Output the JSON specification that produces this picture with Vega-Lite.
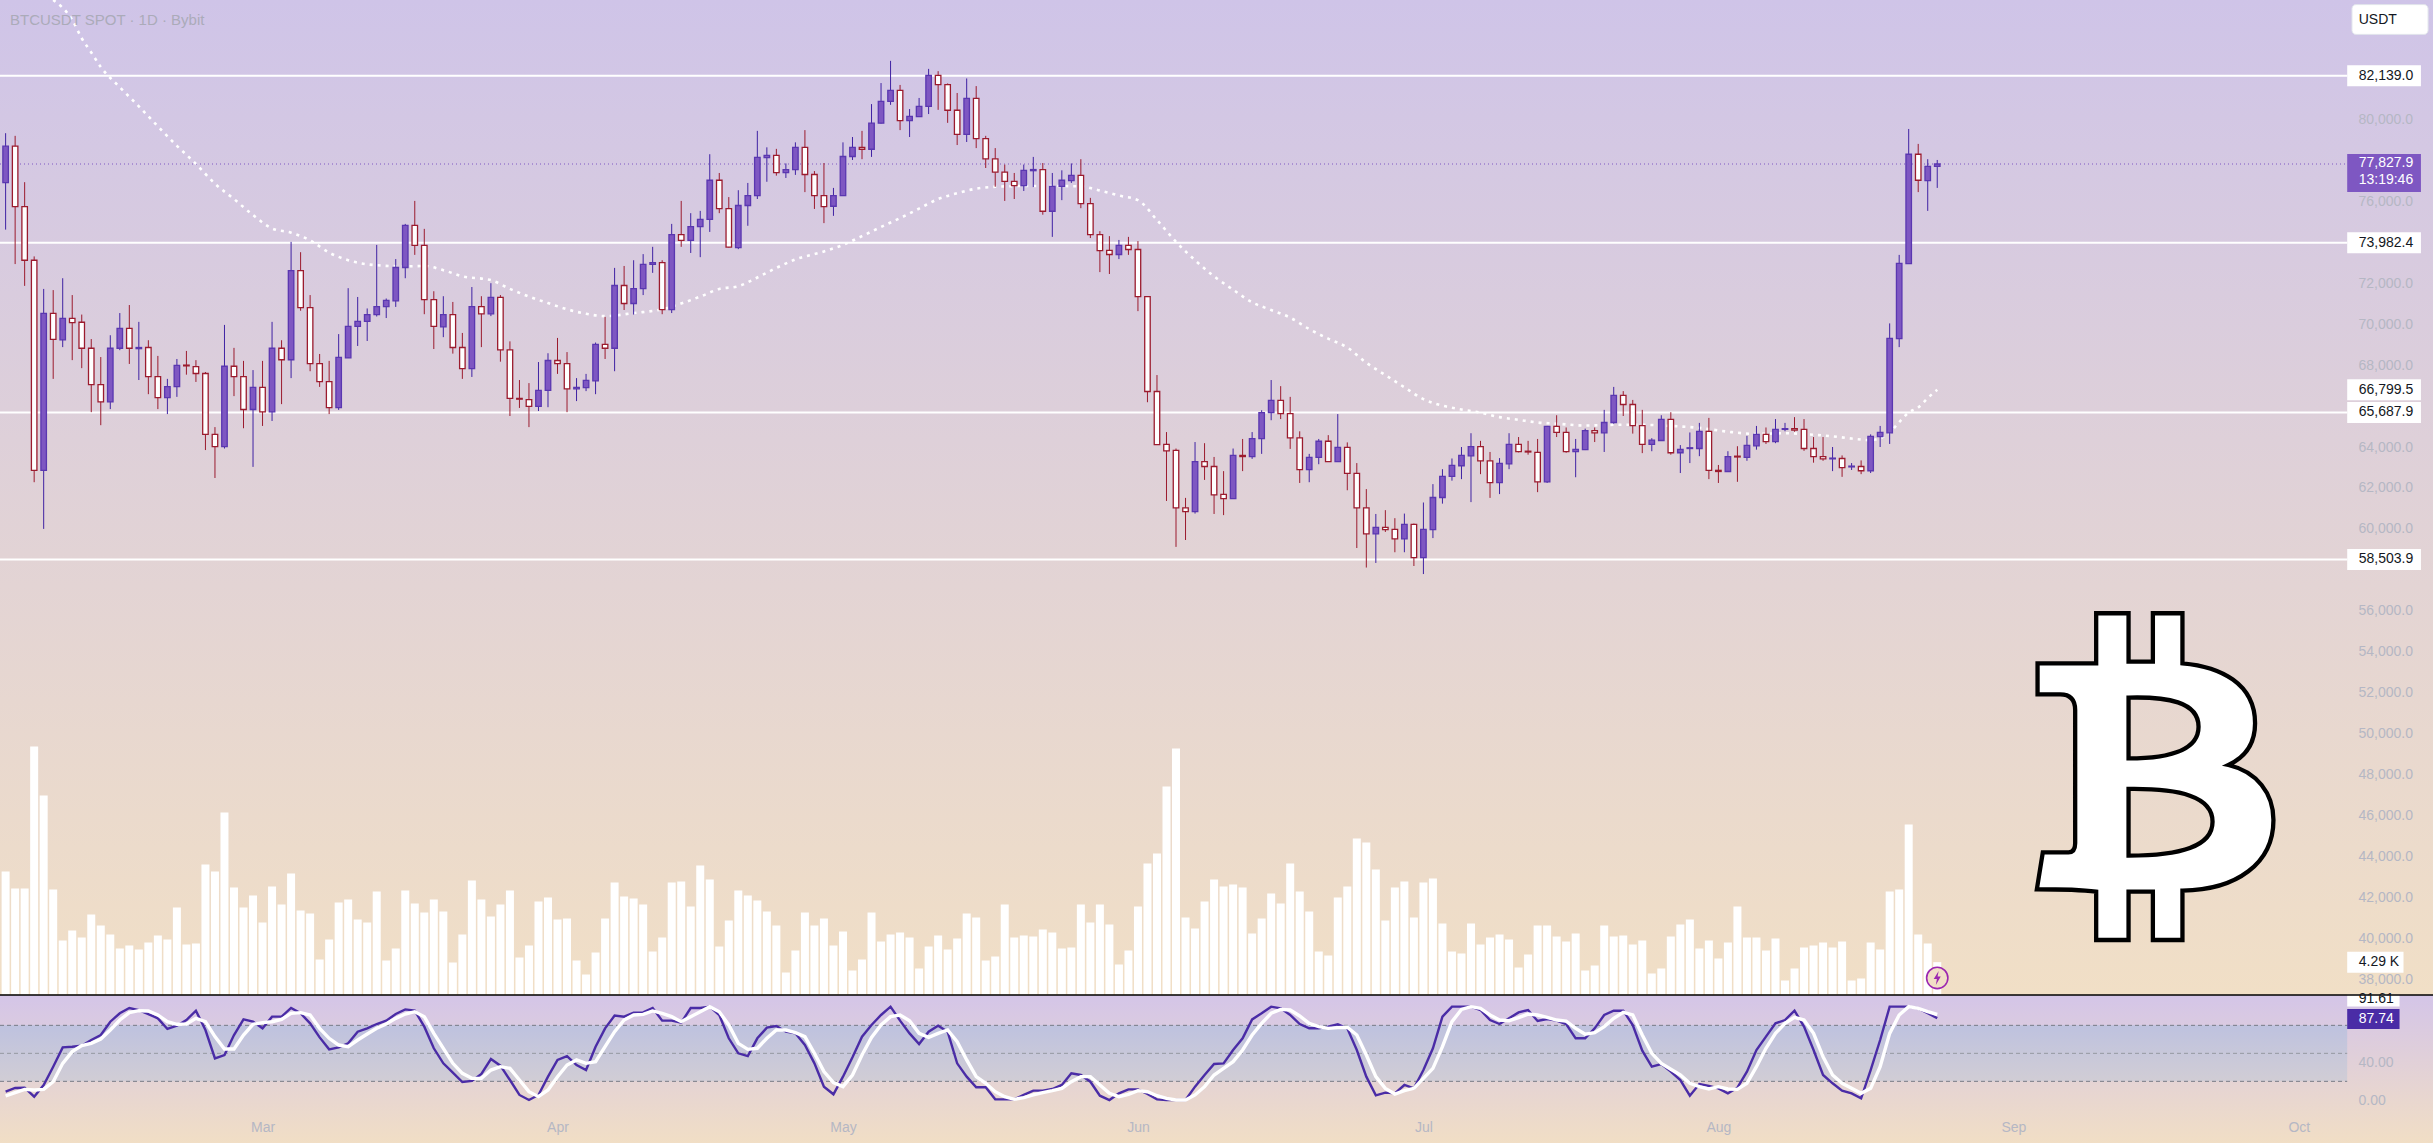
{"$schema":"https://vega.github.io/schema/vega-lite/v6.json","width":2433,"height":1143,"padding":0,"autosize":{"type":"none"},"background":"#F1DFC6","config":{"view":{"stroke":null},"text":{"font":"Liberation Sans"},"axis":{"labelFont":"Liberation Sans"}},
"datasets":{"candles":[
{"t":"2025-02-02","o":76922,"h":79334,"l":74622,"c":78699,"v":16310,"k":8.9,"s":4.3},
{"t":"2025-02-03","o":78699,"h":79204,"l":72939,"c":75744,"v":14056,"k":12.9,"s":7.9},
{"t":"2025-02-04","o":75744,"h":76941,"l":71873,"c":73126,"v":14056,"k":13.2,"s":11.4},
{"t":"2025-02-05","o":73126,"h":73313,"l":62280,"c":62860,"v":32885,"k":3.6,"s":10.7},
{"t":"2025-02-06","o":62860,"h":71724,"l":59999,"c":70527,"v":26387,"k":16.1,"s":11.4},
{"t":"2025-02-07","o":70527,"h":71667,"l":67329,"c":69255,"v":13923,"k":35.7,"s":19.6},
{"t":"2025-02-08","o":69236,"h":72247,"l":68881,"c":70284,"v":7160,"k":56.4,"s":39.3},
{"t":"2025-02-09","o":70284,"h":71424,"l":68245,"c":70078,"v":8486,"k":57.1,"s":51.8},
{"t":"2025-02-10","o":70097,"h":70471,"l":67853,"c":68825,"v":7558,"k":58.2,"s":58.2},
{"t":"2025-02-11","o":68825,"h":69274,"l":65702,"c":67049,"v":10608,"k":64.3,"s":60.7},
{"t":"2025-02-12","o":67049,"h":68395,"l":65066,"c":66207,"v":9149,"k":69.6,"s":65.4},
{"t":"2025-02-13","o":66207,"h":69461,"l":65852,"c":68825,"v":7956,"k":83.9,"s":75},
{"t":"2025-02-14","o":68825,"h":70545,"l":68732,"c":69797,"v":6100,"k":92.9,"s":85.7},
{"t":"2025-02-15","o":69797,"h":70938,"l":68058,"c":68825,"v":6497,"k":98.6,"s":93.6},
{"t":"2025-02-16","o":68806,"h":70115,"l":67273,"c":68862,"v":5967,"k":96.4,"s":95.7},
{"t":"2025-02-17","o":68862,"h":69218,"l":66581,"c":67441,"v":6895,"k":92.1,"s":95.4},
{"t":"2025-02-18","o":67441,"h":68451,"l":65852,"c":66413,"v":7823,"k":87.5,"s":91.1},
{"t":"2025-02-19","o":66413,"h":67329,"l":65609,"c":66955,"v":7293,"k":76.1,"s":83.9},
{"t":"2025-02-20","o":66955,"h":68301,"l":66450,"c":67984,"v":11536,"k":79.6,"s":81.1},
{"t":"2025-02-21","o":68002,"h":68694,"l":67535,"c":67965,"v":6630,"k":85.7,"s":81.4},
{"t":"2025-02-22","o":67927,"h":68245,"l":67179,"c":67591,"v":6763,"k":95.7,"s":87.5},
{"t":"2025-02-23","o":67591,"h":67666,"l":63851,"c":64617,"v":17238,"k":75,"s":83.9},
{"t":"2025-02-24","o":64617,"h":64973,"l":62486,"c":64019,"v":16310,"k":44.6,"s":67.9},
{"t":"2025-02-25","o":64019,"h":69966,"l":63926,"c":67946,"v":24133,"k":48.2,"s":54.6},
{"t":"2025-02-26","o":67946,"h":68844,"l":66487,"c":67441,"v":14188,"k":69.6,"s":54.6},
{"t":"2025-02-27","o":67441,"h":68208,"l":64917,"c":65833,"v":11536,"k":86.4,"s":69.6},
{"t":"2025-02-28","o":65833,"h":67759,"l":63028,"c":66918,"v":13127,"k":83.9,"s":81.1},
{"t":"2025-03-01","o":66918,"h":68208,"l":65029,"c":65721,"v":9547,"k":76.8,"s":82.9},
{"t":"2025-03-02","o":65721,"h":70115,"l":65272,"c":68825,"v":14321,"k":89.3,"s":83.9},
{"t":"2025-03-03","o":68825,"h":69218,"l":66095,"c":68264,"v":11934,"k":89.3,"s":86.4},
{"t":"2025-03-04","o":68264,"h":74024,"l":67366,"c":72621,"v":16045,"k":98.6,"s":92.9},
{"t":"2025-03-05","o":72621,"h":73519,"l":70658,"c":70807,"v":11138,"k":92.9,"s":93.6},
{"t":"2025-03-06","o":70807,"h":71424,"l":67703,"c":68077,"v":10741,"k":82.1,"s":91.1},
{"t":"2025-03-07","o":68077,"h":68545,"l":66936,"c":67198,"v":4641,"k":67.1,"s":76.8},
{"t":"2025-03-08","o":67198,"h":68208,"l":65609,"c":65927,"v":7293,"k":54.3,"s":66.1},
{"t":"2025-03-09","o":65927,"h":69517,"l":65815,"c":68376,"v":12199,"k":56.4,"s":58.9},
{"t":"2025-03-10","o":68357,"h":71761,"l":68357,"c":69891,"v":12597,"k":60.7,"s":57.1},
{"t":"2025-03-11","o":69891,"h":71331,"l":68937,"c":70134,"v":9945,"k":73.2,"s":64.3},
{"t":"2025-03-12","o":70134,"h":70770,"l":69180,"c":70471,"v":9547,"k":76.8,"s":70.7},
{"t":"2025-03-13","o":70471,"h":73874,"l":70377,"c":70863,"v":13658,"k":81.4,"s":76.8},
{"t":"2025-03-14","o":70863,"h":71256,"l":70302,"c":71162,"v":4508,"k":85,"s":81.4},
{"t":"2025-03-15","o":71144,"h":73182,"l":70845,"c":72771,"v":6100,"k":92.1,"s":87.5},
{"t":"2025-03-16","o":72771,"h":74902,"l":72247,"c":74828,"v":13790,"k":97.1,"s":92.1},
{"t":"2025-03-17","o":74828,"h":76025,"l":73388,"c":73855,"v":12067,"k":95.7,"s":94.6},
{"t":"2025-03-18","o":73855,"h":74659,"l":70489,"c":71200,"v":10873,"k":78.6,"s":89.3},
{"t":"2025-03-19","o":71200,"h":71611,"l":68788,"c":69891,"v":12597,"k":55.4,"s":71.4},
{"t":"2025-03-20","o":69872,"h":71368,"l":69367,"c":70471,"v":11006,"k":39.3,"s":55.4},
{"t":"2025-03-21","o":70471,"h":71088,"l":68563,"c":68862,"v":4243,"k":29.3,"s":39.3},
{"t":"2025-03-22","o":68862,"h":69573,"l":67329,"c":67834,"v":7956,"k":19.3,"s":28.6},
{"t":"2025-03-23","o":67834,"h":71817,"l":67423,"c":70863,"v":15116,"k":20.4,"s":23.2},
{"t":"2025-03-24","o":70863,"h":71368,"l":68881,"c":70508,"v":12597,"k":27.9,"s":23.2},
{"t":"2025-03-25","o":70508,"h":72004,"l":70396,"c":71312,"v":10343,"k":43.9,"s":32.1},
{"t":"2025-03-26","o":71312,"h":71424,"l":68170,"c":68750,"v":11934,"k":36.8,"s":35.7},
{"t":"2025-03-27","o":68750,"h":69162,"l":65515,"c":66375,"v":13790,"k":21.4,"s":33.9},
{"t":"2025-03-28","o":66375,"h":67273,"l":65908,"c":66338,"v":4906,"k":5.4,"s":21.4},
{"t":"2025-03-29","o":66319,"h":67123,"l":64973,"c":65983,"v":6497,"k":0,"s":8.9},
{"t":"2025-03-30","o":65983,"h":68152,"l":65758,"c":66768,"v":12332,"k":5.4,"s":3.6},
{"t":"2025-03-31","o":66768,"h":68582,"l":65945,"c":68227,"v":12862,"k":25,"s":10.7},
{"t":"2025-04-01","o":68227,"h":69330,"l":67572,"c":68077,"v":9945,"k":42.9,"s":25},
{"t":"2025-04-02","o":68077,"h":68638,"l":65702,"c":66843,"v":10078,"k":47.1,"s":37.5},
{"t":"2025-04-03","o":66843,"h":67366,"l":66244,"c":66918,"v":4508,"k":37.5,"s":42.9},
{"t":"2025-04-04","o":66899,"h":67572,"l":66731,"c":67254,"v":2652,"k":32.1,"s":39.3},
{"t":"2025-04-05","o":67236,"h":69105,"l":66581,"c":69012,"v":5569,"k":57.1,"s":41.1},
{"t":"2025-04-06","o":69012,"h":70358,"l":68301,"c":68825,"v":10078,"k":76.8,"s":57.1},
{"t":"2025-04-07","o":68825,"h":72752,"l":67703,"c":71892,"v":14851,"k":90.4,"s":73.2},
{"t":"2025-04-08","o":71892,"h":72846,"l":70695,"c":71013,"v":12995,"k":89.3,"s":85.7},
{"t":"2025-04-09","o":71013,"h":73126,"l":70471,"c":71742,"v":12730,"k":93.6,"s":91.1},
{"t":"2025-04-10","o":71742,"h":73425,"l":71424,"c":72920,"v":11934,"k":93.9,"s":91.8},
{"t":"2025-04-11","o":72920,"h":73781,"l":72509,"c":73014,"v":5702,"k":98.6,"s":95.4},
{"t":"2025-04-12","o":73014,"h":73126,"l":70489,"c":70714,"v":7558,"k":85,"s":92.9},
{"t":"2025-04-13","o":70714,"h":74902,"l":70545,"c":74379,"v":14851,"k":85,"s":89.3},
{"t":"2025-04-14","o":74379,"h":76025,"l":73781,"c":74098,"v":14984,"k":82.9,"s":83.9},
{"t":"2025-04-15","o":74098,"h":75426,"l":73481,"c":74772,"v":11669,"k":98.6,"s":89.3},
{"t":"2025-04-16","o":74772,"h":75538,"l":73276,"c":75127,"v":17105,"k":98.6,"s":94.6},
{"t":"2025-04-17","o":75127,"h":78306,"l":74510,"c":77034,"v":15249,"k":100,"s":100},
{"t":"2025-04-18","o":77034,"h":77390,"l":75426,"c":75651,"v":6365,"k":91.1,"s":94.6},
{"t":"2025-04-19","o":75651,"h":76212,"l":73743,"c":73762,"v":9812,"k":66.1,"s":80.4},
{"t":"2025-04-20","o":73743,"h":76548,"l":73668,"c":75800,"v":13790,"k":50,"s":60.7},
{"t":"2025-04-21","o":75800,"h":76903,"l":74809,"c":76286,"v":13127,"k":47.1,"s":54.3},
{"t":"2025-04-22","o":76286,"h":79447,"l":76118,"c":78156,"v":12464,"k":66.1,"s":55.4},
{"t":"2025-04-23","o":78138,"h":78643,"l":76960,"c":78250,"v":11006,"k":77.5,"s":66.1},
{"t":"2025-04-24","o":78250,"h":78568,"l":77259,"c":77408,"v":9149,"k":79.3,"s":75},
{"t":"2025-04-25","o":77408,"h":77857,"l":77146,"c":77558,"v":2917,"k":73.2,"s":75},
{"t":"2025-04-26","o":77558,"h":78886,"l":77296,"c":78643,"v":5834,"k":71.4,"s":72.1},
{"t":"2025-04-27","o":78643,"h":79484,"l":76455,"c":77315,"v":10873,"k":58.9,"s":67.9},
{"t":"2025-04-28","o":77315,"h":77483,"l":75632,"c":76286,"v":9149,"k":39.3,"s":50},
{"t":"2025-04-29","o":76286,"h":77876,"l":74940,"c":75744,"v":10078,"k":14.3,"s":30.4},
{"t":"2025-04-30","o":75763,"h":76660,"l":75295,"c":76286,"v":6497,"k":6.1,"s":18.6},
{"t":"2025-05-01","o":76286,"h":78886,"l":76286,"c":78194,"v":8354,"k":25,"s":14.3},
{"t":"2025-05-02","o":78194,"h":79147,"l":78025,"c":78643,"v":3182,"k":45.7,"s":26.8},
{"t":"2025-05-03","o":78643,"h":79447,"l":78063,"c":78549,"v":4641,"k":67.9,"s":48.2},
{"t":"2025-05-04","o":78549,"h":80756,"l":78175,"c":79821,"v":10873,"k":80.4,"s":67.1},
{"t":"2025-05-05","o":79821,"h":81784,"l":79802,"c":80887,"v":7028,"k":91.1,"s":80.4},
{"t":"2025-05-06","o":80887,"h":82869,"l":80718,"c":81429,"v":7956,"k":100,"s":89.3},
{"t":"2025-05-07","o":81429,"h":81691,"l":79484,"c":79952,"v":8221,"k":85,"s":91.1},
{"t":"2025-05-08","o":79952,"h":80513,"l":79147,"c":80157,"v":7558,"k":71.4,"s":85},
{"t":"2025-05-09","o":80139,"h":81055,"l":80139,"c":80643,"v":3448,"k":60,"s":71.4},
{"t":"2025-05-10","o":80643,"h":82476,"l":80269,"c":82158,"v":6365,"k":73.2,"s":67.1},
{"t":"2025-05-11","o":82158,"h":82364,"l":80475,"c":81709,"v":7823,"k":79.6,"s":71.4},
{"t":"2025-05-12","o":81709,"h":81765,"l":79839,"c":80456,"v":5967,"k":73.2,"s":75},
{"t":"2025-05-13","o":80456,"h":81298,"l":78755,"c":79278,"v":7426,"k":39.3,"s":62.5},
{"t":"2025-05-14","o":79278,"h":82008,"l":78904,"c":81036,"v":10741,"k":25,"s":42.9},
{"t":"2025-05-15","o":81036,"h":81635,"l":78605,"c":79073,"v":10210,"k":13.6,"s":25},
{"t":"2025-05-16","o":79073,"h":79204,"l":77633,"c":78082,"v":4508,"k":13.6,"s":17.9},
{"t":"2025-05-17","o":78082,"h":78605,"l":76716,"c":77427,"v":5039,"k":0.7,"s":8.9},
{"t":"2025-05-18","o":77427,"h":77801,"l":76025,"c":76978,"v":11934,"k":0.7,"s":3.6},
{"t":"2025-05-19","o":76978,"h":77390,"l":76118,"c":76773,"v":7558,"k":0.7,"s":0.7},
{"t":"2025-05-20","o":76773,"h":77801,"l":76511,"c":77520,"v":7823,"k":5.4,"s":2.5},
{"t":"2025-05-21","o":77502,"h":78175,"l":76698,"c":77558,"v":7691,"k":10,"s":5.4},
{"t":"2025-05-22","o":77558,"h":77876,"l":75351,"c":75520,"v":8619,"k":10,"s":7.9},
{"t":"2025-05-23","o":75520,"h":77390,"l":74267,"c":76735,"v":8221,"k":11.8,"s":10},
{"t":"2025-05-24","o":76735,"h":77520,"l":76062,"c":77034,"v":6100,"k":16.1,"s":12.5},
{"t":"2025-05-25","o":77016,"h":77857,"l":76903,"c":77277,"v":6232,"k":28.6,"s":19.6},
{"t":"2025-05-26","o":77277,"h":78063,"l":75669,"c":75894,"v":11934,"k":26.8,"s":25},
{"t":"2025-05-27","o":75894,"h":76174,"l":74211,"c":74379,"v":9547,"k":19.6,"s":25},
{"t":"2025-05-28","o":74379,"h":74547,"l":72546,"c":73594,"v":11934,"k":4.6,"s":16.1},
{"t":"2025-05-29","o":73612,"h":74304,"l":72453,"c":73406,"v":9282,"k":0,"s":7.1},
{"t":"2025-05-30","o":73406,"h":74117,"l":73182,"c":73855,"v":3978,"k":7.1,"s":3.6},
{"t":"2025-05-31","o":73855,"h":74267,"l":73388,"c":73650,"v":5834,"k":11.4,"s":6.1},
{"t":"2025-06-01","o":73650,"h":74061,"l":70639,"c":71350,"v":11669,"k":11.4,"s":10},
{"t":"2025-06-02","o":71350,"h":71350,"l":66188,"c":66712,"v":17371,"k":6.4,"s":8.9},
{"t":"2025-06-03","o":66712,"h":67516,"l":64113,"c":64113,"v":18697,"k":0.7,"s":4.6},
{"t":"2025-06-04","o":64131,"h":64730,"l":61364,"c":63813,"v":27581,"k":0,"s":1.8},
{"t":"2025-06-05","o":63832,"h":63926,"l":59120,"c":61027,"v":32620,"k":0,"s":0},
{"t":"2025-06-06","o":61027,"h":61513,"l":59456,"c":60840,"v":10210,"k":0,"s":0},
{"t":"2025-06-07","o":60840,"h":64243,"l":60747,"c":63290,"v":8752,"k":14.3,"s":5.4},
{"t":"2025-06-08","o":63290,"h":64187,"l":62392,"c":63047,"v":12332,"k":26.8,"s":14.3},
{"t":"2025-06-09","o":63047,"h":63514,"l":60728,"c":61663,"v":15249,"k":38.6,"s":26.8},
{"t":"2025-06-10","o":61682,"h":62822,"l":60672,"c":61476,"v":14321,"k":39.3,"s":33.9},
{"t":"2025-06-11","o":61476,"h":63926,"l":61476,"c":63589,"v":14586,"k":53.6,"s":41.1},
{"t":"2025-06-12","o":63589,"h":64393,"l":62822,"c":63533,"v":14188,"k":66.1,"s":53.6},
{"t":"2025-06-13","o":63533,"h":64730,"l":63421,"c":64412,"v":8089,"k":86.4,"s":69.6},
{"t":"2025-06-14","o":64412,"h":65796,"l":63664,"c":65683,"v":10078,"k":92.9,"s":82.1},
{"t":"2025-06-15","o":65683,"h":67273,"l":65309,"c":66282,"v":13393,"k":100,"s":92.9},
{"t":"2025-06-16","o":66282,"h":66974,"l":65365,"c":65627,"v":12067,"k":98.2,"s":97.1},
{"t":"2025-06-17","o":65627,"h":66450,"l":63907,"c":64449,"v":17371,"k":91.1,"s":96.4},
{"t":"2025-06-18","o":64449,"h":64767,"l":62243,"c":62897,"v":13658,"k":81.4,"s":90},
{"t":"2025-06-19","o":62897,"h":63664,"l":62280,"c":63496,"v":11006,"k":76.8,"s":82.1},
{"t":"2025-06-20","o":63496,"h":64393,"l":63159,"c":64281,"v":5702,"k":76.8,"s":78.6},
{"t":"2025-06-21","o":64281,"h":64580,"l":63290,"c":63290,"v":5171,"k":78.6,"s":76.8},
{"t":"2025-06-22","o":63290,"h":65609,"l":63290,"c":63981,"v":12862,"k":81.1,"s":77.5},
{"t":"2025-06-23","o":63981,"h":64225,"l":61887,"c":62710,"v":14321,"k":76.8,"s":77.9},
{"t":"2025-06-24","o":62710,"h":63215,"l":59064,"c":61027,"v":20686,"k":53.6,"s":69.6},
{"t":"2025-06-25","o":61027,"h":61943,"l":58110,"c":59755,"v":20155,"k":25,"s":48.2},
{"t":"2025-06-26","o":59755,"h":60728,"l":58335,"c":60073,"v":16575,"k":5,"s":25},
{"t":"2025-06-27","o":60073,"h":60915,"l":59849,"c":59961,"v":9812,"k":7.9,"s":12.5},
{"t":"2025-06-28","o":59980,"h":60522,"l":58858,"c":59512,"v":14188,"k":7.1,"s":6.4},
{"t":"2025-06-29","o":59512,"h":60747,"l":58858,"c":60223,"v":14984,"k":16.1,"s":10},
{"t":"2025-06-30","o":60223,"h":60260,"l":58185,"c":58596,"v":10210,"k":12.5,"s":12.5},
{"t":"2025-07-01","o":58596,"h":61289,"l":57792,"c":59980,"v":14851,"k":32.1,"s":23.2},
{"t":"2025-07-02","o":59961,"h":62187,"l":59550,"c":61532,"v":15382,"k":55.4,"s":33.9},
{"t":"2025-07-03","o":61532,"h":62916,"l":61233,"c":62561,"v":9415,"k":89.3,"s":57.1},
{"t":"2025-07-04","o":62561,"h":63440,"l":62355,"c":63103,"v":5702,"k":100,"s":83.9},
{"t":"2025-07-05","o":63084,"h":64000,"l":62430,"c":63589,"v":5437,"k":100,"s":97.1},
{"t":"2025-07-06","o":63570,"h":64674,"l":61308,"c":64019,"v":9415,"k":100,"s":100},
{"t":"2025-07-07","o":64019,"h":64300,"l":62673,"c":63327,"v":6630,"k":96.4,"s":98.2},
{"t":"2025-07-08","o":63327,"h":63757,"l":61513,"c":62261,"v":7558,"k":85.7,"s":91.1},
{"t":"2025-07-09","o":62261,"h":63458,"l":61700,"c":63196,"v":7956,"k":81.4,"s":85.7},
{"t":"2025-07-10","o":63178,"h":64674,"l":62916,"c":64131,"v":7293,"k":87.5,"s":85},
{"t":"2025-07-11","o":64131,"h":64487,"l":63739,"c":63776,"v":3580,"k":93.9,"s":88.2},
{"t":"2025-07-12","o":63795,"h":64300,"l":63626,"c":63757,"v":5304,"k":96.4,"s":92.1},
{"t":"2025-07-13","o":63739,"h":64393,"l":61794,"c":62298,"v":9149,"k":84.6,"s":91.1},
{"t":"2025-07-14","o":62298,"h":65029,"l":62243,"c":65010,"v":9149,"k":86.8,"s":88.6},
{"t":"2025-07-15","o":65010,"h":65552,"l":64487,"c":64711,"v":7691,"k":85,"s":85.7},
{"t":"2025-07-16","o":64711,"h":64954,"l":63720,"c":63776,"v":7028,"k":81.4,"s":84.6},
{"t":"2025-07-17","o":63776,"h":64393,"l":62523,"c":63888,"v":8089,"k":66.1,"s":76.8},
{"t":"2025-07-18","o":63870,"h":64898,"l":63851,"c":64805,"v":3182,"k":66.1,"s":70.4},
{"t":"2025-07-19","o":64805,"h":64954,"l":64243,"c":64693,"v":3845,"k":76.8,"s":72.1},
{"t":"2025-07-20","o":64693,"h":65815,"l":63757,"c":65197,"v":9149,"k":91.1,"s":78.6},
{"t":"2025-07-21","o":65197,"h":66936,"l":65140,"c":66525,"v":7691,"k":95.7,"s":87.5},
{"t":"2025-07-22","o":66525,"h":66731,"l":65515,"c":66076,"v":7823,"k":95.7,"s":93.9},
{"t":"2025-07-23","o":66076,"h":66300,"l":64655,"c":65048,"v":6630,"k":80.4,"s":91.1},
{"t":"2025-07-24","o":65048,"h":65815,"l":63701,"c":64131,"v":7160,"k":52.9,"s":69.6},
{"t":"2025-07-25","o":64131,"h":64431,"l":63795,"c":64337,"v":2785,"k":35.7,"s":50},
{"t":"2025-07-26","o":64318,"h":65552,"l":64318,"c":65347,"v":3448,"k":38.6,"s":39.3},
{"t":"2025-07-27","o":65347,"h":65702,"l":63626,"c":63720,"v":7691,"k":30.4,"s":32.9},
{"t":"2025-07-28","o":63720,"h":64094,"l":62729,"c":63888,"v":9282,"k":21.4,"s":26.8},
{"t":"2025-07-29","o":63926,"h":64711,"l":63215,"c":63963,"v":9945,"k":4.6,"s":17.9},
{"t":"2025-07-30","o":63926,"h":65178,"l":63552,"c":64767,"v":6100,"k":17.1,"s":14.3},
{"t":"2025-07-31","o":64767,"h":65422,"l":62430,"c":62860,"v":7160,"k":15,"s":11.8},
{"t":"2025-08-01","o":62860,"h":63122,"l":62243,"c":62804,"v":4774,"k":12.5,"s":14.3},
{"t":"2025-08-02","o":62804,"h":63795,"l":62804,"c":63533,"v":6895,"k":7.1,"s":11.8},
{"t":"2025-08-03","o":63552,"h":64038,"l":62299,"c":63514,"v":11669,"k":13.2,"s":11.4},
{"t":"2025-08-04","o":63496,"h":64543,"l":63327,"c":64075,"v":7558,"k":30.4,"s":17.9},
{"t":"2025-08-05","o":64056,"h":65029,"l":63870,"c":64617,"v":7558,"k":53.6,"s":35.7},
{"t":"2025-08-06","o":64617,"h":64954,"l":64150,"c":64262,"v":5834,"k":67.9,"s":55.4},
{"t":"2025-08-07","o":64262,"h":65365,"l":64187,"c":64861,"v":7426,"k":82.1,"s":71.4},
{"t":"2025-08-08","o":64861,"h":65178,"l":64767,"c":64898,"v":1856,"k":85.7,"s":82.1},
{"t":"2025-08-09","o":64898,"h":65459,"l":64748,"c":64823,"v":3448,"k":95.7,"s":88.6},
{"t":"2025-08-10","o":64861,"h":65365,"l":63813,"c":63926,"v":6232,"k":78.6,"s":85.7},
{"t":"2025-08-11","o":63926,"h":64487,"l":63234,"c":63533,"v":6497,"k":53.6,"s":71.4},
{"t":"2025-08-12","o":63533,"h":64487,"l":63327,"c":63421,"v":6895,"k":26.8,"s":46.4},
{"t":"2025-08-13","o":63421,"h":64000,"l":62822,"c":63458,"v":6232,"k":17.9,"s":26.8},
{"t":"2025-08-14","o":63439,"h":63589,"l":62542,"c":62991,"v":7028,"k":10,"s":17.9},
{"t":"2025-08-15","o":63028,"h":63215,"l":62878,"c":63066,"v":1856,"k":7.1,"s":12.5},
{"t":"2025-08-16","o":63047,"h":63346,"l":62673,"c":62841,"v":2122,"k":1.8,"s":7.1},
{"t":"2025-08-17","o":62841,"h":64617,"l":62729,"c":64524,"v":6895,"k":32.1,"s":12.5},
{"t":"2025-08-18","o":64505,"h":65029,"l":64000,"c":64711,"v":5967,"k":64.3,"s":35.7},
{"t":"2025-08-19","o":64693,"h":70040,"l":64150,"c":69311,"v":13658,"k":100,"s":71.4},
{"t":"2025-08-20","o":69293,"h":73388,"l":68881,"c":72976,"v":13923,"k":100,"s":91.1},
{"t":"2025-08-21","o":72958,"h":79540,"l":72958,"c":78306,"v":22542,"k":100,"s":100},
{"t":"2025-08-22","o":78306,"h":78811,"l":76455,"c":77034,"v":7956,"k":98.2,"s":98.2},
{"t":"2025-08-23","o":77016,"h":78063,"l":75538,"c":77708,"v":6763,"k":92.9,"s":94.6},
{"t":"2025-08-24","o":77708,"h":78025,"l":76660,"c":77827.9,"v":4290,"k":87.74,"s":91.61}
],
"ma":[
{"t":"2025-02-07","m":85842},{"t":"2025-02-09","m":84870},{"t":"2025-02-10","m":83972},{"t":"2025-02-11","m":83280},{"t":"2025-02-12","m":82570},{"t":"2025-02-14","m":81578},{"t":"2025-02-16","m":80643},{"t":"2025-02-18","m":79671},{"t":"2025-02-20","m":78717},{"t":"2025-02-22","m":77838},{"t":"2025-02-24","m":76866},{"t":"2025-02-26","m":76118},{"t":"2025-02-28","m":75333},{"t":"2025-03-02","m":74678},{"t":"2025-03-04","m":74472},{"t":"2025-03-06","m":74098},{"t":"2025-03-08","m":73500},{"t":"2025-03-10","m":73126},{"t":"2025-03-13","m":72881},{"t":"2025-03-16","m":72827},{"t":"2025-03-18","m":72846},{"t":"2025-03-20","m":72640},{"t":"2025-03-22","m":72340},{"t":"2025-03-25","m":72154},{"t":"2025-03-27","m":71724},{"t":"2025-03-29","m":71350},{"t":"2025-03-31","m":71032},{"t":"2025-04-02","m":70732},{"t":"2025-04-04","m":70508},{"t":"2025-04-06","m":70396},{"t":"2025-04-09","m":70545},{"t":"2025-04-12","m":70732},{"t":"2025-04-14","m":71013},{"t":"2025-04-16","m":71350},{"t":"2025-04-18","m":71724},{"t":"2025-04-20","m":71854},{"t":"2025-04-22","m":72284},{"t":"2025-04-24","m":72752},{"t":"2025-04-26","m":73164},{"t":"2025-04-29","m":73556},{"t":"2025-05-01","m":73874},{"t":"2025-05-03","m":74304},{"t":"2025-05-05","m":74753},{"t":"2025-05-07","m":75183},{"t":"2025-05-09","m":75650},{"t":"2025-05-11","m":76118},{"t":"2025-05-13","m":76398},{"t":"2025-05-15","m":76623},{"t":"2025-05-17","m":76716},{"t":"2025-05-20","m":76754},{"t":"2025-05-23","m":76754},{"t":"2025-05-26","m":76735},{"t":"2025-05-28","m":76529},{"t":"2025-05-30","m":76286},{"t":"2025-06-01","m":76062},{"t":"2025-06-03","m":75090},{"t":"2025-06-05","m":74024},{"t":"2025-06-07","m":73126},{"t":"2025-06-09","m":72340},{"t":"2025-06-11","m":71686},{"t":"2025-06-13","m":71069},{"t":"2025-06-15","m":70695},{"t":"2025-06-17","m":70321},{"t":"2025-06-19","m":69760},{"t":"2025-06-21","m":69293},{"t":"2025-06-23","m":68862},{"t":"2025-06-25","m":68115},{"t":"2025-06-27","m":67516},{"t":"2025-06-29","m":66918},{"t":"2025-07-01","m":66338},{"t":"2025-07-03","m":66020},{"t":"2025-07-05","m":65833},{"t":"2025-07-07","m":65683},{"t":"2025-07-09","m":65459},{"t":"2025-07-11","m":65328},{"t":"2025-07-13","m":65197},{"t":"2025-07-15","m":65140},{"t":"2025-07-18","m":65048},{"t":"2025-07-21","m":65085},{"t":"2025-07-24","m":65085},{"t":"2025-07-27","m":65029},{"t":"2025-07-30","m":64935},{"t":"2025-08-02","m":64748},{"t":"2025-08-05","m":64636},{"t":"2025-08-08","m":64674},{"t":"2025-08-11","m":64599},{"t":"2025-08-13","m":64524},{"t":"2025-08-15","m":64412},{"t":"2025-08-17","m":64337},{"t":"2025-08-19","m":64711},{"t":"2025-08-20","m":65216},{"t":"2025-08-21","m":65683},{"t":"2025-08-22","m":65927},{"t":"2025-08-23","m":66394},{"t":"2025-08-24","m":66799.5}
]},
"encoding":{"x":{"field":"t","type":"temporal","title":null,"scale":{"type":"utc","padding":0,"domain":[{"year":2025,"month":2,"date":1,"hours":9,"minutes":50,"utc":true},{"year":2025,"month":10,"date":15,"hours":2,"minutes":24,"utc":true}]},
"axis":{"orient":"bottom","zindex":1,"values":[{"year":2025,"month":3,"date":1,"utc":true},{"year":2025,"month":4,"date":1,"utc":true},{"year":2025,"month":5,"date":1,"utc":true},{"year":2025,"month":6,"date":1,"utc":true},{"year":2025,"month":7,"date":1,"utc":true},{"year":2025,"month":8,"date":1,"utc":true},{"year":2025,"month":9,"date":1,"utc":true},{"year":2025,"month":10,"date":1,"utc":true}],"format":"%b","grid":false,"domain":false,"ticks":false,"tickSize":0,"labelPadding":-15.5,"labelBaseline":"middle","labelFontSize":14,"labelColor":"#B5B7C4","labelOverlap":false,"labelFlush":false}}},
"layer":[
{"data":{"values":[{"t":"2025-02-01T09:50:00Z","t2":"2025-10-15T02:24:00Z","a":85842,"b":37250}],"format":{"parse":{"t":"date","t2":"date"}}},"mark":{"type":"rect","fill":{"gradient":"linear","x1":0,"y1":0,"x2":0,"y2":1,"stops":[{"offset":0,"color":"#CFC4E8"},{"offset":1,"color":"#F1DFC6"}]}},"encoding":{"x2":{"field":"t2"},"y":{"field":"a","type":"quantitative","axis":{"orient":"right","zindex":1,"title":null,"grid":false,"domain":false,"ticks":false,"tickSize":0,"labelPadding":-75,"labelAlign":"left","labelBaseline":"middle","labelFontSize":14,"labelColor":"#B5B7C4","labelOverlap":false,"labelFlush":false,"format":",.1f","values":[38000,40000,42000,44000,46000,48000,50000,52000,54000,56000,60000,62000,64000,68000,70000,72000,76000,80000]},"scale":{"domain":[29992,85842]}},"y2":{"field":"b"}}},
{"data":{"values":[{"t":"2025-02-01T09:50:00Z","t2":"2025-10-15T02:24:00Z","a":112.5,"b":-46.07}],"format":{"parse":{"t":"date","t2":"date"}}},"mark":{"type":"rect","fill":{"gradient":"linear","x1":0,"y1":0,"x2":0,"y2":1,"stops":[{"offset":0,"color":"#D4C5E8"},{"offset":1,"color":"#F1DEC5"}]}},"encoding":{"x2":{"field":"t2"},"y":{"field":"a","type":"quantitative","axis":{"orient":"right","zindex":1,"title":null,"grid":false,"domain":false,"ticks":false,"tickSize":0,"labelPadding":-75,"labelAlign":"left","labelBaseline":"middle","labelFontSize":14,"labelColor":"#B5B7C4","labelOverlap":false,"labelFlush":false,"format":".2f","values":[0,40]},"scale":{"domain":[-46.07,1178.6]}},"y2":{"field":"b"}}},
{"data":{"values":[{"t":"2025-02-01T09:50:00Z","t2":"2025-10-06T02:00:00Z","a":80,"b":20}],"format":{"parse":{"t":"date","t2":"date"}}},"mark":{"type":"rect","fill":{"gradient":"linear","x1":0,"y1":0,"x2":0,"y2":1,"stops":[{"offset":0,"color":"#BEC2DF"},{"offset":1,"color":"#D1CDD5"}]}},"encoding":{"x2":{"field":"t2"},"y":{"field":"a","type":"quantitative","axis":null,"scale":{"domain":[-46.07,1178.6]}},"y2":{"field":"b"}}},
{"data":{"values":[{"t":"2025-02-01T09:50:00Z","t2":"2025-10-06T02:00:00Z","a":80},{"t":"2025-02-01T09:50:00Z","t2":"2025-10-06T02:00:00Z","a":50},{"t":"2025-02-01T09:50:00Z","t2":"2025-10-06T02:00:00Z","a":20}],"format":{"parse":{"t":"date","t2":"date"}}},"mark":{"type":"rule","strokeWidth":1,"strokeDash":[4,3]},"encoding":{"x2":{"field":"t2"},"y":{"field":"a","type":"quantitative","axis":null,"scale":{"domain":[-46.07,1178.6]}},"color":{"condition":{"test":"datum.a==50","value":"#9598A1"},"value":"#787B86"}}},
{"data":{"name":"candles"},"mark":{"type":"bar","orient":"vertical","size":8,"color":"#FFFFFF"},"encoding":{"y":{"field":"v","type":"quantitative","stack":null,"axis":null,"scale":{"domain":[-19691,131871]}}}},
{"data":{"values":[{"t":"2025-02-01T09:50:00Z","t2":"2025-10-06T02:00:00Z","a":82139},{"t":"2025-02-01T09:50:00Z","t2":"2025-10-06T02:00:00Z","a":73982.4},{"t":"2025-02-01T09:50:00Z","t2":"2025-10-06T02:00:00Z","a":65687.9},{"t":"2025-02-01T09:50:00Z","t2":"2025-10-06T02:00:00Z","a":58503.9}],"format":{"parse":{"t":"date","t2":"date"}}},"mark":{"type":"rule","strokeWidth":2,"color":"#FFFFFF"},"encoding":{"x2":{"field":"t2"},"y":{"field":"a","type":"quantitative","axis":null,"scale":{"domain":[29992,85842]}}}},
{"data":{"values":[{"t":"2025-02-01T09:50:00Z","t2":"2025-10-06T02:00:00Z","a":77827.9}],"format":{"parse":{"t":"date","t2":"date"}}},"mark":{"type":"rule","strokeWidth":1,"color":"#7E57C2","strokeDash":[1,3]},"encoding":{"x2":{"field":"t2"},"y":{"field":"a","type":"quantitative","axis":null,"scale":{"domain":[29992,85842]}}}},
{"data":{"name":"ma"},"mark":{"type":"line","interpolate":"monotone","color":"#FFFFFF","strokeWidth":2.6,"strokeDash":[3,5]},"encoding":{"y":{"field":"m","type":"quantitative","axis":null,"scale":{"domain":[29992,85842]}}}},
{"data":{"name":"candles"},"mark":{"type":"rule","strokeWidth":1},"encoding":{"y":{"field":"l","type":"quantitative","axis":null,"scale":{"domain":[29992,85842]}},"y2":{"field":"h"},"color":{"condition":{"test":"datum.c>=datum.o","value":"#3F22A3"},"value":"#9B1B2E"}}},
{"data":{"name":"candles"},"mark":{"type":"bar","orient":"vertical","size":5.5,"strokeWidth":1.3},"encoding":{"y":{"field":"o","type":"quantitative","axis":null,"scale":{"domain":[29992,85842]}},"y2":{"field":"c"},"fill":{"condition":{"test":"datum.c>=datum.o","value":"#7E57C2"},"value":"#FFFFFF"},"stroke":{"condition":{"test":"datum.c>=datum.o","value":"#5A37B0"},"value":"#9B1B2E"}}},
{"data":{"name":"candles"},"mark":{"type":"line","color":"#4A2CA6","strokeWidth":2.4},"encoding":{"y":{"field":"k","type":"quantitative","axis":null,"scale":{"domain":[-46.07,1178.6]}}}},
{"data":{"name":"candles"},"mark":{"type":"line","color":"#FFFFFF","strokeWidth":3.4},"encoding":{"y":{"field":"s","type":"quantitative","axis":null,"scale":{"domain":[-46.07,1178.6]}}}},
{"data":{"values":[{"t":"2025-09-15T21:36:00Z","a":47975}],"format":{"parse":{"t":"date"}}},"mark":{"type":"point","shape":"M-0.337,-0.924L-0.152,-0.924L-0.152,-0.648L-0.013,-0.648L-0.013,-0.924L0.156,-0.924L0.156,-0.638C0.371,-0.619,0.571,-0.524,0.571,-0.295C0.571,-0.181,0.524,-0.105,0.419,-0.057C0.581,-0.019,0.676,0.105,0.676,0.257C0.676,0.505,0.467,0.657,0.156,0.661L0.156,0.943L-0.013,0.943L-0.013,0.667L-0.152,0.667L-0.152,0.943L-0.337,0.943L-0.337,0.667C-0.448,0.653,-0.562,0.653,-0.676,0.653L-0.642,0.442L-0.495,0.442C-0.467,0.442,-0.457,0.419,-0.457,0.39L-0.457,-0.371C-0.457,-0.429,-0.486,-0.461,-0.543,-0.461L-0.672,-0.461L-0.672,-0.638L-0.337,-0.638ZM-0.152,-0.442L-0.152,-0.095C0.086,-0.095,0.248,-0.143,0.248,-0.276C0.248,-0.419,0.067,-0.448,-0.152,-0.442ZM-0.152,0.08L-0.152,0.461C0.143,0.461,0.328,0.41,0.328,0.267C0.328,0.124,0.143,0.076,-0.152,0.08Z","size":122500,"filled":true,"fill":"#FFFFFF","stroke":"#000000","strokeWidth":4.3,"opacity":1},"encoding":{"y":{"field":"a","type":"quantitative","axis":null,"scale":{"domain":[29992,85842]}}}},
{"data":{"values":[{"t":"2025-08-24","a":38057}]},"mark":{"type":"point","shape":"circle","size":452,"filled":true,"fill":"#F1DFC6","stroke":"#9C27B0","strokeWidth":1.6,"opacity":1},"encoding":{"y":{"field":"a","type":"quantitative","axis":null,"scale":{"domain":[29992,85842]}}}},
{"data":{"values":[{"t":"2025-08-24","a":38057}]},"mark":{"type":"point","shape":"M0.2,-1L-0.5,0.15L-0.05,0.15L-0.2,1L0.5,-0.2L0.05,-0.2Z","size":196,"filled":true,"fill":"#9C27B0","opacity":1},"encoding":{"y":{"field":"a","type":"quantitative","axis":null,"scale":{"domain":[29992,85842]}}}},
{"data":{"values":[{"t":"2025-10-06T02:00:00Z","t2":"2025-10-13T20:00:00Z","a":82139},{"t":"2025-10-06T02:00:00Z","t2":"2025-10-13T20:00:00Z","a":73982.4},{"t":"2025-10-06T02:00:00Z","t2":"2025-10-13T20:00:00Z","a":66799.5},{"t":"2025-10-06T02:00:00Z","t2":"2025-10-13T20:00:00Z","a":65687.9},{"t":"2025-10-06T02:00:00Z","t2":"2025-10-13T20:00:00Z","a":58503.9}],"format":{"parse":{"t":"date","t2":"date"}}},"mark":{"type":"rule","strokeWidth":21,"color":"#FFFFFF"},"encoding":{"x2":{"field":"t2"},"y":{"field":"a","type":"quantitative","axis":null,"scale":{"domain":[29992,85842]}}}},
{"data":{"values":[{"t":"2025-10-06T02:00:00Z","t2":"2025-10-13T20:00:00Z","a":77389}],"format":{"parse":{"t":"date","t2":"date"}}},"mark":{"type":"rule","strokeWidth":38,"color":"#7E57C2"},"encoding":{"x2":{"field":"t2"},"y":{"field":"a","type":"quantitative","axis":null,"scale":{"domain":[29992,85842]}}}},
{"data":{"values":[{"t":"2025-10-06T14:00:00Z","t2":"2025-10-14T14:00:00Z","a":85617,"b":84161}],"format":{"parse":{"t":"date","t2":"date"}}},"mark":{"type":"rect","cornerRadius":4,"fill":"#FFFFFF","stroke":"#E0E3EB","strokeWidth":1},"encoding":{"x2":{"field":"t2"},"y":{"field":"a","type":"quantitative","axis":null,"scale":{"domain":[29992,85842]}},"y2":{"field":"b"}}},
{"data":{"values":[{"t":"2025-10-06T02:00:00Z","t2":"2025-10-12T00:00:00Z","a":4290}],"format":{"parse":{"t":"date","t2":"date"}}},"mark":{"type":"rule","strokeWidth":21,"color":"#FFFFFF"},"encoding":{"x2":{"field":"t2"},"y":{"field":"a","type":"quantitative","axis":null,"scale":{"domain":[-19691,131871]}}}},
{"data":{"values":[{"t":"2025-10-06T02:00:00Z","t2":"2025-10-11T14:00:00Z","a":106.5}],"format":{"parse":{"t":"date","t2":"date"}}},"mark":{"type":"rule","strokeWidth":12,"color":"#FFFFFF"},"encoding":{"x2":{"field":"t2"},"y":{"field":"a","type":"quantitative","axis":null,"scale":{"domain":[-46.07,1178.6]}}}},
{"data":{"values":[{"t":"2025-10-06T02:00:00Z","t2":"2025-10-11T14:00:00Z","a":86.8}],"format":{"parse":{"t":"date","t2":"date"}}},"mark":{"type":"rule","strokeWidth":20,"color":"#4A2CA6"},"encoding":{"x2":{"field":"t2"},"y":{"field":"a","type":"quantitative","axis":null,"scale":{"domain":[-46.07,1178.6]}}}},
{"data":{"values":[{"t":"2025-02-01T09:50:00Z","t2":"2025-10-15T02:24:00Z","a":112.5}],"format":{"parse":{"t":"date","t2":"date"}}},"mark":{"type":"rule","strokeWidth":1.5,"color":"#000000"},"encoding":{"x2":{"field":"t2"},"y":{"field":"a","type":"quantitative","axis":null,"scale":{"domain":[-46.07,1178.6]}}}},
{"data":{"values":[{"t":"2025-10-07T07:00:00Z","a":82139,"label":"82,139.0"},{"t":"2025-10-07T07:00:00Z","a":73982.4,"label":"73,982.4"},{"t":"2025-10-07T07:00:00Z","a":66799.5,"label":"66,799.5"},{"t":"2025-10-07T07:00:00Z","a":65687.9,"label":"65,687.9"},{"t":"2025-10-07T07:00:00Z","a":58503.9,"label":"58,503.9"},{"t":"2025-10-07T07:00:00Z","a":84889,"label":"USDT"}],"format":{"parse":{"t":"date"}}},"mark":{"type":"text","align":"left","baseline":"middle","fontSize":14,"color":"#131722"},"encoding":{"y":{"field":"a","type":"quantitative","axis":null,"scale":{"domain":[29992,85842]}},"text":{"field":"label"}}},
{"data":{"values":[{"t":"2025-10-07T07:00:00Z","a":77858,"label":"77,827.9"},{"t":"2025-10-07T07:00:00Z","a":77047,"label":"13:19:46"}],"format":{"parse":{"t":"date"}}},"mark":{"type":"text","align":"left","baseline":"middle","fontSize":14,"color":"#FFFFFF"},"encoding":{"y":{"field":"a","type":"quantitative","axis":null,"scale":{"domain":[29992,85842]}},"text":{"field":"label"}}},
{"data":{"values":[{"t":"2025-02-02T11:00:00Z","a":84870,"label":"BTCUSDT SPOT · 1D · Bybit"}],"format":{"parse":{"t":"date"}}},"mark":{"type":"text","align":"left","baseline":"middle","fontSize":15,"color":"#ABABB9"},"encoding":{"y":{"field":"a","type":"quantitative","axis":null,"scale":{"domain":[29992,85842]}},"text":{"field":"label"}}},
{"data":{"values":[{"t":"2025-10-07T07:00:00Z","a":4290,"label":"4.29 K"}],"format":{"parse":{"t":"date"}}},"mark":{"type":"text","align":"left","baseline":"middle","fontSize":14,"color":"#131722"},"encoding":{"y":{"field":"a","type":"quantitative","axis":null,"scale":{"domain":[-19691,131871]}},"text":{"field":"label"}}},
{"data":{"values":[{"t":"2025-10-07T07:00:00Z","a":107.9,"label":"91.61"}],"format":{"parse":{"t":"date"}}},"mark":{"type":"text","align":"left","baseline":"middle","fontSize":14,"color":"#131722"},"encoding":{"y":{"field":"a","type":"quantitative","axis":null,"scale":{"domain":[-46.07,1178.6]}},"text":{"field":"label"}}},
{"data":{"values":[{"t":"2025-10-07T07:00:00Z","a":86.8,"label":"87.74"}],"format":{"parse":{"t":"date"}}},"mark":{"type":"text","align":"left","baseline":"middle","fontSize":14,"color":"#FFFFFF"},"encoding":{"y":{"field":"a","type":"quantitative","axis":null,"scale":{"domain":[-46.07,1178.6]}},"text":{"field":"label"}}}
],
"resolve":{"scale":{"y":"independent"},"axis":{"y":"independent"}}}
